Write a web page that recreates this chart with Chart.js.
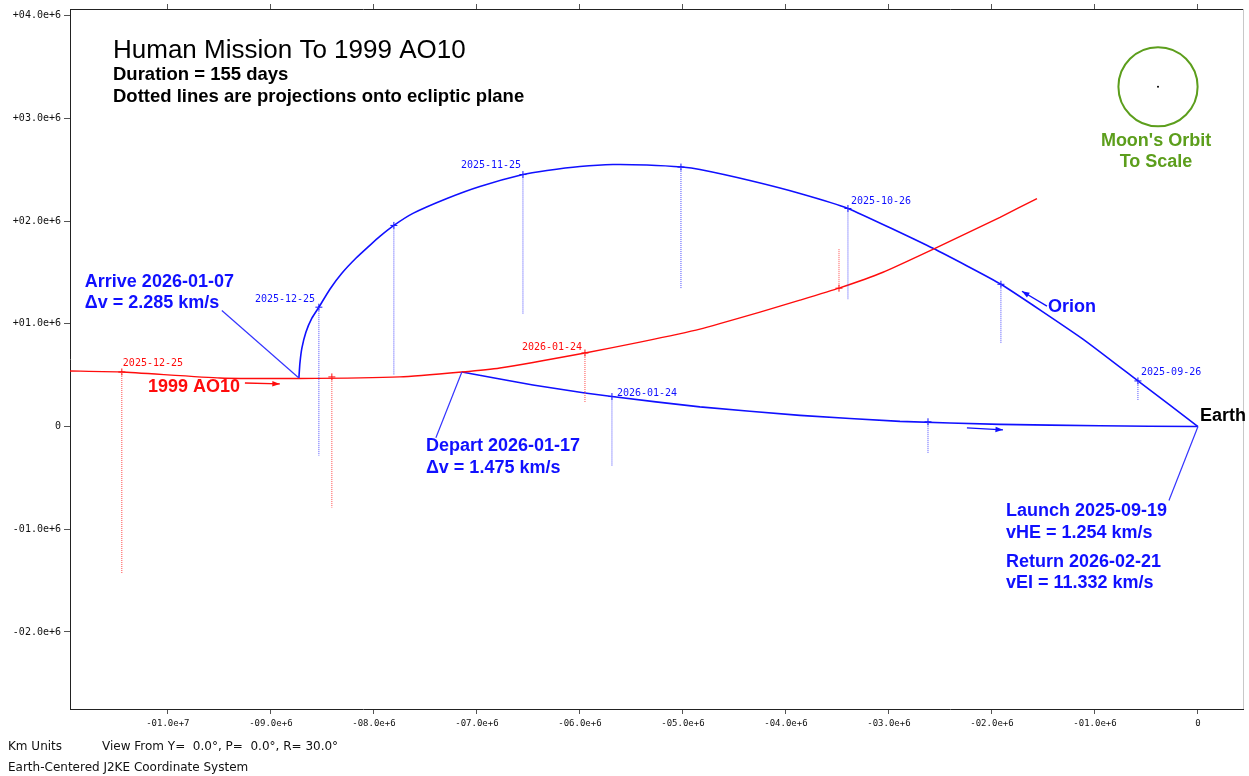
<!DOCTYPE html>
<html>
<head>
<meta charset="utf-8">
<title>Human Mission To 1999 AO10</title>
<script src="https://cdn.jsdelivr.net/npm/chart.js@4/dist/chart.umd.min.js"></script>
<style>
  body { margin: 0; background: #fff; }
  canvas { display: block; }
</style>
</head>
<body>
<canvas id="orbit" width="1249" height="776"></canvas>
<script>
// km, Earth-centered, ecliptic view
const X_MIN = -10950000, X_MAX = 437000
const Y_MIN = -2750000, Y_MAX = 4065000
const xTicks = [-10000000, -9000000, -8000000, -7000000, -6000000, -5000000, -4000000, -3000000, -2000000, -1000000, 0]
const yTicks = [-2000000, -1000000, 0, 1000000, 2000000, 3000000, 4000000]

// Orion outbound leg, launch -> arrive at asteroid
const outX = [0, -583000, -1117000, -1913000, -2573000, -3398000, -3864000, -4350000, -4835000, -5010000, -5350000, -5680000, -6000000, -6320000, -6553000, -6971000, -7291000, -7621000, -7806000, -7942000, -8039000, -8175000, -8311000, -8427000, -8534000, -8602000, -8660000, -8699000, -8718000, -8728000]
const outY = [0, 444000, 851000, 1385000, 1735000, 2123000, 2269000, 2395000, 2502000, 2526000, 2546000, 2551000, 2531000, 2492000, 2453000, 2337000, 2220000, 2075000, 1958000, 1851000, 1764000, 1638000, 1492000, 1337000, 1162000, 1055000, 919000, 764000, 618000, 473000]

// Orion return leg, depart asteroid -> Earth
const retX = [-7146000, -6777000, -6456000, -5951000, -5689000, -4835000, -3864000, -2893000, -1922000, -951000, 0]
const retY = [531000, 463000, 405000, 327000, 292000, 191000, 109000, 50000, 21000, 7000, 0]

// 1999 AO10 path
const astX = [-10951000, -10447000, -9495000, -8728000, -7748000, -7146000, -6777000, -5951000, -5417000, -4835000, -4252000, -3864000, -3485000, -3058000, -2553000, -1922000, -1563000]
const astY = [541000, 531000, 473000, 468000, 483000, 531000, 570000, 716000, 822000, 949000, 1114000, 1230000, 1347000, 1502000, 1735000, 2036000, 2220000]

// dated points with their drop lines onto the ecliptic
const orionTickX = [-583000, -1913000, -3398000, -5019000, -6553000, -7806000, -8534000, -5689000, -2621000]
const orionTickY = [444000, 1385000, 2123000, 2526000, 2453000, 1958000, 1162000, 292000, 46000]
const orionProjY = [259000, 813000, 1240000, 1347000, 1094000, 500000, -284000, -382000, -265000]

const astTickX = [-10447000, -8408000, -5951000, -3485000]
const astTickY = [531000, 483000, 716000, 1347000]
const astProjY = [-1430000, -789000, 230000, 1735000]

const MOON_ORBIT_KM = 384400

const BLUE = '#1010ff'
const RED = '#ff0c0c'
const GREEN = '#5c9e1c'

function pts(xs, ys) {
  return xs.map((x, i) => ({ x: x, y: ys[i] }))
}

function dropLines(xs, top, bottom) {
  const out = []
  xs.forEach((x, i) => {
    out.push({ x: x, y: top[i] }, { x: x, y: bottom[i] }, { x: x, y: null })
  })
  return out
}

function sci(v) {
  if (Math.abs(v) < 1) return '0'
  const e = Math.floor(Math.log10(Math.abs(v)) + 1e-9)
  const m = Math.abs(v) / Math.pow(10, e)
  return (v < 0 ? '-' : '+') + '0' + m.toFixed(1) + 'e+' + e
}

// text placed in km coordinates: [text, x, y, color, font]
const BIG = 'bold 18px "Liberation Sans", Arial, sans-serif'
const SMALL = '10px "DejaVu Sans Mono", monospace'
const notes = [
  ['Arrive 2026-01-07', -10806000, 1405000, BLUE, BIG],
  ['\u0394v = 2.285 km/s', -10806000, 1201000, BLUE, BIG],
  ['1999 AO10', -10194000, 385000, RED, BIG],
  ['Depart 2026-01-17', -7495000, -187000, BLUE, BIG],
  ['\u0394v = 1.475 km/s', -7495000, -401000, BLUE, BIG],
  ['Orion', -1456000, 1162000, BLUE, BIG],
  ['Earth', 19000, 104000, '#000', BIG],
  ['Launch 2025-09-19', -1864000, -818000, BLUE, BIG],
  ['vHE = 1.254 km/s', -1864000, -1032000, BLUE, BIG],
  ['Return 2026-02-21', -1864000, -1323000, BLUE, BIG],
  ['vEI = 11.332 km/s', -1864000, -1527000, BLUE, BIG],
  ['2025-09-26', -553000, 531000, BLUE, SMALL],
  ['2025-10-26', -3369000, 2191000, BLUE, SMALL],
  ['2025-11-25', -7155000, 2541000, BLUE, SMALL],
  ['2025-12-25', -9155000, 1240000, BLUE, SMALL],
  ['2026-01-24', -5641000, 327000, BLUE, SMALL],
  ['2025-12-25', -10437000, 618000, RED, SMALL],
  ['2026-01-24', -6563000, 774000, RED, SMALL]
]

// leader lines from labels to events: [x0, y0, x1, y1]
const leaders = [
  [-9476000, 1130000, outX[outX.length - 1], outY[outY.length - 1]],
  [-7398000, -109000, retX[0], retY[0]],
  [-282000, -721000, 0, 0]
]

// direction arrows: [x0, y0, x1, y1, color]
const arrows = [
  [-9252000, 424000, -8913000, 415000, RED],
  [-1466000, 1172000, -1709000, 1317000, BLUE],
  [-2243000, -13000, -1893000, -32000, BLUE]
]

const moonCenter = [-388000, 3308000]

const overlay = {
  id: 'overlay',
  afterDatasetsDraw(chart) {
    const ctx = chart.ctx
    const xs = chart.scales.x
    const ys = chart.scales.y
    const px = v => xs.getPixelForValue(v)
    const py = v => ys.getPixelForValue(v)
    const area = chart.chartArea
    ctx.save()

    // light right edge of the frame
    ctx.strokeStyle = '#c8c8c8'
    ctx.lineWidth = 1
    ctx.beginPath()
    ctx.moveTo(area.right + 0.5, area.top)
    ctx.lineTo(area.right + 0.5, area.bottom)
    ctx.stroke()

    // leader lines
    ctx.strokeStyle = '#3434ff'
    ctx.lineWidth = 1.2
    leaders.forEach(l => {
      ctx.beginPath()
      ctx.moveTo(px(l[0]), py(l[1]))
      ctx.lineTo(px(l[2]), py(l[3]))
      ctx.stroke()
    })

    // arrows
    arrows.forEach(a => {
      const x0 = px(a[0]), y0 = py(a[1]), x1 = px(a[2]), y1 = py(a[3])
      const ang = Math.atan2(y1 - y0, x1 - x0)
      ctx.strokeStyle = a[4]
      ctx.fillStyle = a[4]
      ctx.lineWidth = 1.3
      ctx.beginPath()
      ctx.moveTo(x0, y0)
      ctx.lineTo(x1, y1)
      ctx.stroke()
      ctx.beginPath()
      ctx.moveTo(x1, y1)
      ctx.lineTo(x1 - 8 * Math.cos(ang - 0.35), y1 - 8 * Math.sin(ang - 0.35))
      ctx.lineTo(x1 - 8 * Math.cos(ang + 0.35), y1 - 8 * Math.sin(ang + 0.35))
      ctx.closePath()
      ctx.fill()
    })

    // moon's orbit, to scale
    const mx = px(moonCenter[0]), my = py(moonCenter[1])
    const r = px(MOON_ORBIT_KM) - px(0)
    ctx.strokeStyle = GREEN
    ctx.lineWidth = 2
    ctx.beginPath()
    ctx.arc(mx, my, r, 0, Math.PI * 2)
    ctx.stroke()
    ctx.fillStyle = '#000'
    ctx.beginPath()
    ctx.arc(mx, my, 1, 0, Math.PI * 2)
    ctx.fill()
    ctx.fillStyle = GREEN
    ctx.font = BIG
    ctx.textAlign = 'center'
    ctx.textBaseline = 'middle'
    ctx.fillText("Moon's Orbit", mx - 2, my + 54)
    ctx.fillText('To Scale', mx - 2, my + 75)

    // labels
    ctx.textAlign = 'left'
    notes.forEach(n => {
      ctx.fillStyle = n[3]
      ctx.font = n[4]
      ctx.fillText(n[0], px(n[1]), py(n[2]))
    })

    // heading
    ctx.fillStyle = '#000'
    ctx.font = '26px "Liberation Sans", Arial, sans-serif'
    ctx.fillText('Human Mission To 1999 AO10', 113, 51)
    ctx.font = 'bold 18.5px "Liberation Sans", Arial, sans-serif'
    ctx.fillText('Duration = 155 days', 113, 75)
    ctx.fillText('Dotted lines are projections onto ecliptic plane', 113, 97)

    // footer
    ctx.font = '12px "DejaVu Sans", sans-serif'
    ctx.fillStyle = '#111'
    ctx.fillText('Km Units', 8, 747)
    ctx.fillText('View From Y=  0.0\u00b0, P=  0.0\u00b0, R= 30.0\u00b0', 102, 747)
    ctx.fillText('Earth-Centered J2KE Coordinate System', 8, 768)

    ctx.restore()
  }
}

const tickFont = { family: '"DejaVu Sans Mono", monospace', size: 9 }
const setTicks = list => s => { s.ticks = list.map(v => ({ value: v })) }

new Chart(document.getElementById('orbit'), {
  type: 'scatter',
  data: {
    datasets: [
      {
        data: dropLines(orionTickX, orionTickY, orionProjY),
        showLine: true, spanGaps: false,
        borderColor: '#4a4aff', borderWidth: 1, borderDash: [1, 1],
        pointRadius: 0
      },
      {
        data: dropLines(astTickX, astTickY, astProjY),
        showLine: true, spanGaps: false,
        borderColor: '#ff4a4a', borderWidth: 1, borderDash: [1, 1],
        pointRadius: 0
      },
      {
        label: '1999 AO10',
        data: pts(astX, astY),
        showLine: true, borderColor: RED, borderWidth: 1.4,
        pointRadius: 0, tension: 0.15
      },
      {
        label: 'Orion out',
        data: pts(outX, outY),
        showLine: true, borderColor: BLUE, borderWidth: 1.6,
        pointRadius: 0, tension: 0.15
      },
      {
        label: 'Orion return',
        data: pts(retX, retY),
        showLine: true, borderColor: BLUE, borderWidth: 1.6,
        pointRadius: 0, tension: 0.15
      },
      {
        data: pts(orionTickX, orionTickY),
        showLine: false, pointStyle: 'cross', pointRadius: 3.5,
        borderColor: BLUE, borderWidth: 1
      },
      {
        data: pts(astTickX, astTickY),
        showLine: false, pointStyle: 'cross', pointRadius: 3.5,
        borderColor: RED, borderWidth: 1
      }
    ]
  },
  options: {
    responsive: false,
    animation: false,
    events: [],
    layout: { padding: { top: 0, right: 6, left: 0, bottom: 0 } },
    plugins: {
      legend: { display: false },
      tooltip: { enabled: false }
    },
    scales: {
      x: {
        type: 'linear', position: 'bottom', min: X_MIN, max: X_MAX,
        afterFit: s => { s.height = 67 },
        afterBuildTicks: setTicks(xTicks),
        ticks: {
          autoSkip: false, maxRotation: 0,
          callback: v => sci(v), font: tickFont, color: '#111', padding: 4
        },
        grid: { drawOnChartArea: false, tickLength: 5, color: '#555' },
        border: { color: '#222', width: 1 }
      },
      xTop: {
        axis: 'x', type: 'linear', position: 'top', min: X_MIN, max: X_MAX,
        afterFit: s => { s.height = 7 },
        afterBuildTicks: setTicks(xTicks),
        ticks: { display: false },
        grid: { drawOnChartArea: false, tickLength: 5, color: '#555' },
        border: { color: '#222', width: 1 }
      },
      y: {
        type: 'linear', position: 'left', min: Y_MIN, max: Y_MAX,
        afterFit: s => { s.width = 70 },
        afterBuildTicks: setTicks(yTicks),
        ticks: {
          autoSkip: false,
          callback: v => sci(v), font: { family: '"DejaVu Sans Mono", monospace', size: 10 }, color: '#111', padding: 3
        },
        grid: { drawOnChartArea: false, tickLength: 6, color: '#555' },
        border: { color: '#222', width: 1 }
      }
    }
  },
  plugins: [overlay]
})
</script>
</body>
</html>
